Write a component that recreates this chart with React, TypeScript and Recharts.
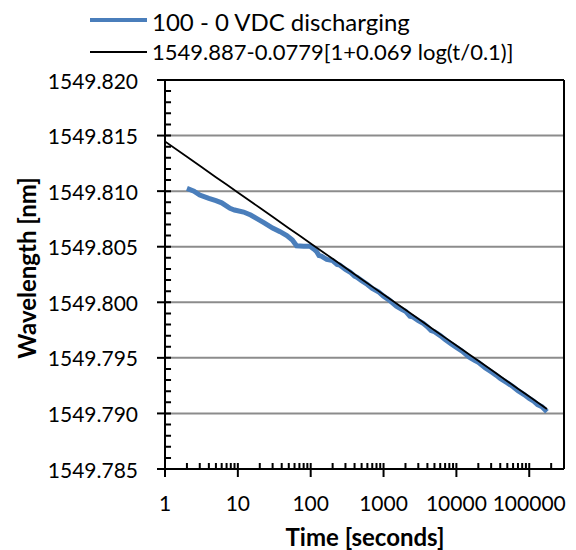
import React from "react";
import { LineChart, Line, XAxis, YAxis, ReferenceLine } from "recharts";

// fitted curve
const fitTime = [1, 2, 3, 5, 7, 10, 20, 30, 50, 70, 100, 200, 300, 500, 700, 1000, 2000, 3000, 5000, 7000, 10000, 20000, 30000, 50000, 70000, 100000, 175000];
const fitWavelength = [
  1549.81447, 1549.81309, 1549.81228, 1549.81126, 1549.81059, 1549.80988, 1549.8085, 1549.80769, 1549.80667,
  1549.806, 1549.80529, 1549.80391, 1549.8031, 1549.80208, 1549.80141, 1549.8007, 1549.79932, 1549.79851,
  1549.79749, 1549.79682, 1549.79611, 1549.79473, 1549.79392, 1549.7929, 1549.79223, 1549.79152, 1549.7904,
];

// measured data, blue line
const dischargeTime = [
  2, 2.5, 3, 4, 5, 6, 7.8, 9, 12, 15, 18, 23, 30, 38, 47, 56, 64, 80, 98, 110, 121, 130, 140, 166, 200, 230, 250,
  300, 350, 400, 430, 500, 600, 700, 850, 1000, 1200, 1500, 1800, 2000, 2300, 2500, 3000, 3500, 4000, 4500, 5000,
  6000, 7000, 8500, 10000, 12000, 15000, 18000, 20000, 25000, 30000, 35000, 40000, 50000, 60000, 70000, 85000,
  100000, 115000, 130000, 150000, 175000,
];
const dischargeWavelength = [
  1549.81025, 1549.81, 1549.80965, 1549.80935, 1549.80915, 1549.80895, 1549.80845, 1549.8083, 1549.80812,
  1549.80785, 1549.80755, 1549.80715, 1549.80668, 1549.80635, 1549.806, 1549.8056, 1549.80508, 1549.80505,
  1549.80505, 1549.8048, 1549.80455, 1549.8042, 1549.80415, 1549.80385, 1549.80375, 1549.8034, 1549.80335,
  1549.80295, 1549.8027, 1549.80235, 1549.80225, 1549.80195, 1549.8016, 1549.80125, 1549.80095, 1549.80055,
  1549.8002, 1549.79965, 1549.79935, 1549.7992, 1549.79875, 1549.7987, 1549.79835, 1549.7981, 1549.7978,
  1549.79745, 1549.79735, 1549.797, 1549.79665, 1549.79625, 1549.79595, 1549.7956, 1549.79505, 1549.79475,
  1549.7946, 1549.7941, 1549.79375, 1549.79345, 1549.79315, 1549.79275, 1549.7924, 1549.79205, 1549.7917,
  1549.79135, 1549.7911, 1549.7908, 1549.7906, 1549.79015,
];

const yMin = 1549.785;
const yMax = 1549.82;
const xMin = 1;
const xMax = 300000;
const yMajor = [1549.785, 1549.79, 1549.795, 1549.8, 1549.805, 1549.81, 1549.815, 1549.82];
const decades = [1, 10, 100, 1000, 10000, 100000];

const fitData = fitTime.map((t, i) => ({ t, v: fitWavelength[i] }));
const dischargeData = dischargeTime.map((t, i) => ({ t, v: dischargeWavelength[i] }));

const xMinor: number[] = [];
decades.forEach((d) => {
  for (let m = 1; m <= 9; m++) xMinor.push(d * m);
});
xMinor.push(200000, 300000);

const yMinor: number[] = [];
for (let i = 0; i <= 35; i++) yMinor.push(+(yMin + i * 0.001).toFixed(3));

// inward tick marks, ~6px long, as broken line series
const yIn = 0.00054;
const xIn = 1.21;
const xTickMarks: { t: number; v: number | null }[] = [];
xMinor.forEach((t) => {
  xTickMarks.push({ t, v: yMin }, { t, v: yMin + yIn }, { t, v: null });
});
const yTickMarks: { t: number; v: number | null }[] = [];
yMinor.forEach((v) => {
  yTickMarks.push({ t: xMin, v }, { t: xIn, v }, { t: xIn, v: null });
});

const FONT = "Lato, 'Noto Sans', sans-serif";

const XLabel = (props: any) => (
  <text x={props.x} y={Number(props.y) + 25} textAnchor="middle" dominantBaseline="central" fontSize={21} fill="#000" fontFamily={FONT}>
    {props.payload.value}
  </text>
);

const YLabel = (props: any) => (
  <text x={Number(props.x) - 19} y={props.y} textAnchor="end" dominantBaseline="central" fontSize={21} fill="#000" fontFamily={FONT}>
    {Number(props.payload.value).toFixed(3)}
  </text>
);

export default function App() {
  return (
    <div style={{ position: "absolute", left: 0, top: 0, width: 576, height: 550, background: "#fff" }}>
      <LineChart width={576} height={550} margin={{ top: 80, right: 12, bottom: 41, left: 0 }}>
        <XAxis
          dataKey="t"
          type="number"
          scale="log"
          domain={[xMin, xMax]}
          ticks={decades}
          interval={0}
          tick={<XLabel />}
          tickLine={{ stroke: "#000", strokeWidth: 2 }}
          tickSize={8}
          tickMargin={0}
          height={40}
          allowDataOverflow
          axisLine={{ stroke: "#000", strokeWidth: 2 }}
        />
        <YAxis
          type="number"
          domain={[yMin, yMax]}
          ticks={yMajor}
          interval={0}
          tick={<YLabel />}
          tickLine={{ stroke: "#000", strokeWidth: 2 }}
          tickSize={8}
          tickMargin={0}
          width={165}
          allowDataOverflow
          axisLine={{ stroke: "#000", strokeWidth: 2 }}
        />
        {yMajor.slice(1, -1).map((v) => (
          <ReferenceLine key={"g" + v} y={v} stroke="#8c8c8c" strokeWidth={2} />
        ))}
        <ReferenceLine y={yMax} stroke="#000" strokeWidth={2} />
        <ReferenceLine x={xMax} stroke="#000" strokeWidth={2} />
        <ReferenceLine y={yMin} stroke="#000" strokeWidth={2} />
        <ReferenceLine x={xMin} stroke="#000" strokeWidth={2} />
        <Line
          data={xTickMarks}
          dataKey="v"
          stroke="#000"
          strokeWidth={2}
          dot={false}
          type="linear"
          connectNulls={false}
          isAnimationActive={false}
        />
        <Line
          data={yTickMarks}
          dataKey="v"
          stroke="#000"
          strokeWidth={2}
          dot={false}
          type="linear"
          connectNulls={false}
          isAnimationActive={false}
        />
        <Line
          data={dischargeData}
          dataKey="v"
          stroke="#4a7ebb"
          strokeWidth={5}
          dot={false}
          type="linear"
          isAnimationActive={false}
        />
        <Line
          data={fitData}
          dataKey="v"
          stroke="#000"
          strokeWidth={1.8}
          dot={false}
          type="linear"
          isAnimationActive={false}
        />
      </LineChart>
      <svg width={576} height={550} style={{ position: "absolute", left: 0, top: 0, pointerEvents: "none" }}>
        <line x1={90} x2={147} y1={20} y2={20} stroke="#4a7ebb" strokeWidth={4} />
        <text x={152} y={21} dominantBaseline="central" fontSize={24} fontFamily={FONT} fill="#000">
          100 - 0 VDC discharging
        </text>
        <line x1={90} x2={147} y1={52} y2={52} stroke="#000" strokeWidth={1.8} />
        <text x={152} y={51} dominantBaseline="central" fontSize={22} fontFamily={FONT} fill="#000">
          1549.887-0.0779[1+0.069 log(t/0.1)]
        </text>
        <text
          x={26}
          y={268}
          transform="rotate(-90 26 268)"
          textAnchor="middle"
          dominantBaseline="central"
          fontSize={24}
          fontWeight="bold"
          fontFamily={FONT}
          fill="#000"
        >
          Wavelength [nm]
        </text>
        <text x={365} y={536} textAnchor="middle" dominantBaseline="central" fontSize={24} fontWeight="bold" fontFamily={FONT} fill="#000">
          Time [seconds]
        </text>
      </svg>
    </div>
  );
}
